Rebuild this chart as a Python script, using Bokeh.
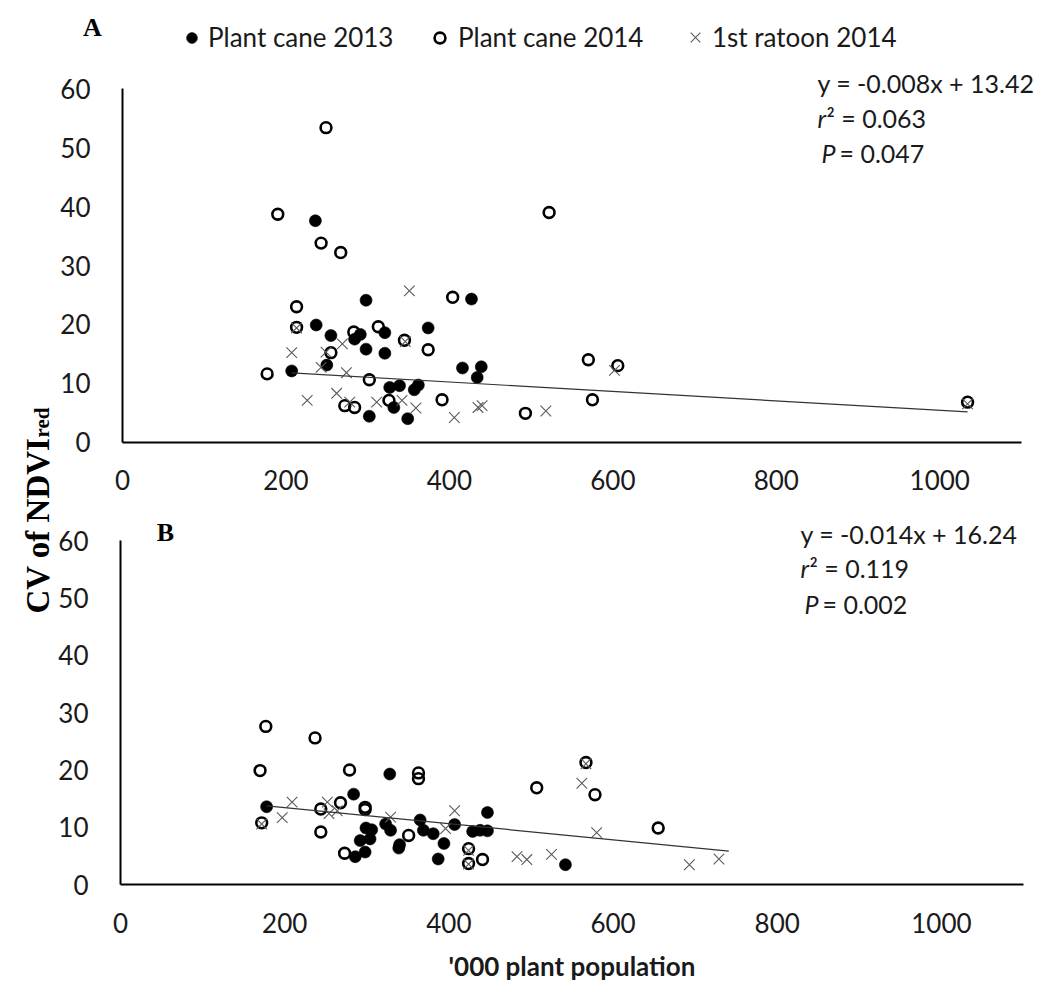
from math import pi
from bokeh.plotting import figure
from bokeh.models import Range1d, Label, Legend, LegendItem, LinearAxis, FixedTicker
from bokeh.embed import file_html
from bokeh.resources import INLINE

FONT = "Lato"
SERIF = "Liberation Serif"
TXT = "#1a1a1a"
W, H = 1043, 981

# ---------------- data ----------------
x_ticks = [0, 200, 400, 600, 800, 1000]
y_ticks = [0, 10, 20, 30, 40, 50, 60]
series_names = ["Plant cane 2013", "Plant cane 2014", "1st ratoon 2014"]
y_title_main, y_title_sub = "CV of NDVI", "red"
x_title = "'000 plant population"

# Panel A
a_pc13_x = [236, 298, 427, 237, 374, 255, 291, 284, 321, 298, 321, 207, 250, 416, 439, 434, 327, 339, 362, 357, 332, 302, 349]
a_pc13_y = [37.6, 24.1, 24.3, 19.9, 19.4, 18.1, 18.3, 17.5, 18.6, 15.8, 15.1, 12.1, 13.1, 12.6, 12.8, 11.0, 9.3, 9.6, 9.7, 8.9, 5.9, 4.4, 4.0]
a_pc14_x = [249, 190, 522, 243, 267, 404, 213, 213, 313, 283, 345, 374, 255, 177, 302, 391, 326, 272, 284, 493, 570, 606, 575, 1034]
a_pc14_y = [53.4, 38.7, 39.0, 33.8, 32.2, 24.6, 23.0, 19.5, 19.6, 18.7, 17.3, 15.7, 15.2, 11.6, 10.6, 7.2, 7.1, 6.2, 5.9, 4.9, 14.0, 13.0, 7.2, 6.8]
a_r14_x = [351, 213, 207, 269, 249, 243, 274, 346, 226, 262, 278, 311, 342, 359, 406, 435, 440, 518, 602, 1034]
a_r14_y = [25.7, 19.4, 15.2, 16.7, 15.3, 12.7, 11.8, 17.1, 7.1, 8.3, 6.8, 6.8, 7.1, 5.8, 4.2, 5.9, 6.2, 5.3, 12.2, 6.5]
a_slope, a_intercept = -0.008, 13.42
a_fit_x = [207, 1034]
a_stats = ["y = -0.008x + 13.42", "0.063", "0.047"]

# Panel B
b_pc13_x = [178, 284, 328, 365, 407, 447, 299, 306, 292, 304, 298, 286, 323, 329, 340, 339, 369, 381, 394, 387, 429, 438, 447, 542]
b_pc13_y = [13.6, 15.8, 19.3, 11.3, 10.5, 12.6, 9.9, 9.6, 7.7, 8.0, 5.7, 4.9, 10.6, 9.5, 7.0, 6.4, 9.5, 8.9, 7.2, 4.5, 9.3, 9.5, 9.4, 3.5]
b_pc14_x = [170, 177, 237, 279, 363, 363, 172, 244, 268, 298, 298, 244, 351, 273, 424, 424, 441, 507, 567, 578, 655]
b_pc14_y = [19.9, 27.6, 25.6, 20.0, 19.5, 18.5, 10.8, 13.2, 14.3, 13.5, 13.1, 9.2, 8.6, 5.5, 6.3, 3.7, 4.4, 16.9, 21.3, 15.7, 9.9]
b_r14_x = [172, 197, 209, 252, 254, 264, 329, 407, 396, 424, 424, 483, 495, 525, 562, 580, 693, 729, 567]
b_r14_y = [10.6, 11.7, 14.4, 14.4, 12.4, 12.9, 11.8, 12.9, 9.8, 6.0, 3.6, 4.9, 4.4, 5.3, 17.7, 9.1, 3.5, 4.5, 21.1]
b_slope, b_intercept = -0.014, 16.24
b_fit_x = [178, 741]
b_stats = ["y = -0.014x + 16.24", "0.119", "0.002"]

# ---------------- page geometry (pixels from top-left) ----------------
GEOM = {
    "A": dict(x0=122.0, x1100=1021.0, y0=441.7, y60=88.3),
    "B": dict(x0=120.0, x1100=1023.0, y0=884.3, y60=540.0),
}


def ranges_for(g):
    sx = (g["x1100"] - g["x0"]) / 1100.0
    sy = (g["y0"] - g["y60"]) / 60.0
    xr = Range1d(-g["x0"] / sx, (W - g["x0"]) / sx)
    yb = H - g["y0"]  # bottom-up pixel of y=0
    yr = Range1d(-yb / sy, (H - yb) / sy)
    return xr, yr


p = figure(width=W, height=H, x_range=Range1d(0, W), y_range=Range1d(0, H),
           x_axis_type=None, y_axis_type=None, min_border=0, min_border_left=0,
           min_border_right=0, min_border_top=0, min_border_bottom=0,
           toolbar_location=None, output_backend="svg", background_fill_color="white",
           border_fill_color="white")
p.outline_line_color = None

for k in ("A", "B"):
    xr, yr = ranges_for(GEOM[k])
    p.extra_x_ranges["x" + k] = xr
    p.extra_y_ranges["y" + k] = yr


def axis_style(ax):
    ax.axis_line_width = 2
    ax.axis_line_color = "black"
    ax.major_tick_line_color = None
    ax.minor_tick_line_color = None
    ax.major_label_text_font = FONT
    ax.major_label_text_font_size = "26px"
    ax.major_label_text_color = TXT


def panel(k, xs13, ys13, xs14, ys14, xsr, ysr, slope, intercept, fit_x):
    kw = dict(x_range_name="x" + k, y_range_name="y" + k)
    ax = LinearAxis(fixed_location=0, bounds=(0, 1100), ticker=FixedTicker(ticks=x_ticks),
                    major_label_standoff=22, **kw)
    ay = LinearAxis(fixed_location=0, bounds=(0, 60), ticker=FixedTicker(ticks=y_ticks),
                    major_label_standoff=26, **kw)
    axis_style(ax)
    axis_style(ay)
    p.add_layout(ax, "below")
    p.add_layout(ay, "left")
    r13 = p.scatter(xs13, ys13, marker="circle", size=12, fill_color="black",
                    line_color="black", line_width=0.6, **kw)
    r14 = p.scatter(xs14, ys14, marker="circle", size=10.8, fill_color=None,
                    line_color="black", line_width=2.6, **kw)
    rr = p.scatter(xsr, ysr, marker="x", size=15, line_color="#5a5a5a", line_width=1.1, **kw)
    fy = [slope * v + intercept for v in fit_x]
    p.line(fit_x, fy, line_color="#333333", line_width=1.2, **kw)
    return ax, r13, r14, rr


axA, ra13, ra14, rar = panel("A", a_pc13_x, a_pc13_y, a_pc14_x, a_pc14_y, a_r14_x, a_r14_y,
                             a_slope, a_intercept, a_fit_x)
axB, rb13, rb14, rbr = panel("B", b_pc13_x, b_pc13_y, b_pc14_x, b_pc14_y, b_r14_x, b_r14_y,
                             b_slope, b_intercept, b_fit_x)

axB.axis_label = x_title
axB.axis_label_text_font = FONT
axB.axis_label_text_font_style = "bold"
axB.axis_label_text_font_size = "26px"
axB.axis_label_text_color = TXT
axB.axis_label_standoff = 14


# ---------------- texts (page pixel positions, y measured from top) ----------------
def label(x, y_top, text, **kw):
    base = dict(text_font=FONT, text_font_size="25px", text_color=TXT, text_baseline="middle")
    base.update(kw)
    p.add_layout(Label(x=x, y=H - y_top, text=text, **base))


def stats(x, ys, st, r_dx, p_dx, eq_dx):
    label(x, ys[0], st[0])
    label(x, ys[1], "r", text_font_style="italic")
    label(x + r_dx, ys[1], "\u00b2 = " + st[1])
    label(x + p_dx, ys[2], "P", text_font_style="italic")
    label(x + eq_dx, ys[2], "= " + st[2])


stats(817, [82, 117, 152], a_stats, 9, 4, 22)
stats(800, [533, 567, 603], b_stats, 9, 4, 22)

for txt, x, y in (("A", 92, 27), ("B", 165, 532)):
    label(x, y, txt, text_font=SERIF, text_font_style="bold", text_font_size="26px",
          text_align="center", text_color="black")

p.add_layout(Label(x=37, y=H - 613, text=y_title_main, angle=pi / 2, text_font=SERIF,
                   text_font_style="bold", text_font_size="33px", text_align="left",
                   text_baseline="alphabetic", text_color="black"))
p.add_layout(Label(x=41, y=H - 437, text=y_title_sub, angle=pi / 2, text_font=SERIF,
                   text_font_style="bold", text_font_size="21px", text_align="left",
                   text_baseline="alphabetic", text_color="black"))

# ---------------- legend (three single-item legends placed along the top) ----------------
leg_specs = [
    (ra13, series_names[0], 27, 3, 178, 928),
    (ra14, series_names[1], 27, 5, 426, 928),
    (rar, series_names[2], 34, 0, 678, 927),
]
for rend, name, g, stand, lx, ly in leg_specs:
    leg = Legend(items=[LegendItem(label=name, renderers=[rend])], location=(lx, ly),
                 orientation="horizontal", glyph_width=g, glyph_height=g, label_standoff=stand,
                 padding=0, margin=0, spacing=0, border_line_color=None,
                 background_fill_alpha=0, label_text_font=FONT, label_text_font_size="26px",
                 label_text_color=TXT)
    p.add_layout(leg)

open("out.html", "w").write(file_html(p, INLINE))
